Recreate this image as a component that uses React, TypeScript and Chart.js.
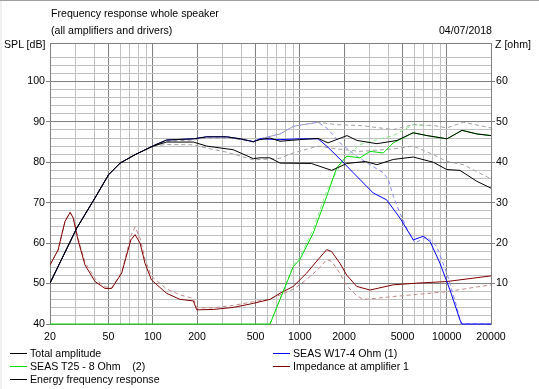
import React, { useEffect, useRef } from "react";
import { Chart, registerables } from "chart.js";

Chart.register(...registerables);

// ---------- Data ----------
const GRID_FREQS = [
  20, 30, 40, 50, 60, 70, 80, 90, 100, 200, 300, 400, 500, 600, 700, 800, 900,
  1000, 2000, 3000, 4000, 5000, 6000, 7000, 8000, 9000, 10000, 20000,
];
const LABEL_FREQS = [20, 50, 100, 200, 500, 1000, 2000, 5000, 10000, 20000];

// Total amplitude (dB)
const TOTAL_F = [20, 30.4, 40.5, 50, 60, 76, 101, 124, 189, 233, 318, 393, 483, 536, 628, 734, 1000, 1332, 1558, 2096, 2450, 3352, 4588, 5893, 7340, 10040, 12700, 16060, 20000];
const TOTAL_DB = [50.1, 63.7, 71.2, 76.9, 79.8, 81.9, 84.1, 85.5, 85.8, 86.3, 86.3, 85.8, 85.1, 85.6, 86.0, 85.2, 85.6, 85.9, 84.8, 86.6, 85.4, 84.6, 85.4, 87.3, 86.6, 85.8, 87.9, 87.0, 86.6];

// Energy frequency response (dB)
const ENERGY_F = [20, 30.4, 40.5, 50, 60, 76, 101, 124, 189, 233, 353, 483, 536, 628, 734, 1200, 1650, 2086, 2800, 3350, 4330, 5920, 8110, 10000, 12300, 16000, 20000];
const ENERGY_DB = [50.1, 63.7, 71.2, 76.9, 79.8, 81.9, 84.0, 85.0, 85.0, 84.0, 83.1, 80.9, 81.1, 81.1, 79.8, 79.7, 78.0, 79.7, 80.2, 79.4, 80.7, 81.3, 80.0, 78.2, 78.0, 75.3, 73.6];

// SEAS W17-4 Ohm (1) (dB)
const W17_F = [20, 30.4, 40.5, 50, 60, 76, 101, 124, 189, 233, 318, 393, 483, 536, 734, 1000, 1332, 1526, 1878, 2313, 3163, 3900, 4808, 5920, 6934, 7700, 8996, 10520, 12300, 12700, 20000];
const W17_DB = [50.1, 63.7, 71.2, 76.9, 79.8, 81.9, 84.1, 85.5, 85.8, 86.3, 86.3, 85.8, 85.1, 85.8, 85.6, 85.8, 85.8, 84.0, 80.8, 77.4, 72.4, 70.7, 66.2, 60.8, 61.7, 60.4, 55.0, 48.4, 41.0, 40, 40];

// SEAS T25 - 8 Ohm (2) (dB)
const T25_F = [20, 628, 904, 1000, 1236, 1526, 1783, 2086, 2570, 3006, 3700, 4330, 5920, 7340, 10040, 12700, 16060, 20000];
const T25_DB = [40, 40, 54.2, 55.9, 62.5, 71.6, 78.6, 81.5, 81.1, 82.7, 82.3, 84.8, 87.3, 86.6, 85.8, 87.9, 87.0, 86.6];

// Impedance at amplifier 1 (ohm)
const IMP_F = [20, 22.7, 25.3, 27.4, 28.8, 31, 34.6, 40.5, 47.3, 52.6, 61.5, 71, 75.8, 82, 88.6, 98, 124, 153, 189, 199, 258, 353, 483, 628, 734, 904, 1115, 1330, 1526, 1648, 1878, 2086, 2440, 3006, 4330, 6240, 10000, 20000];
const IMP_OHM = [14.6, 18.3, 25.4, 27.6, 26.2, 20.8, 14.6, 10.5, 8.8, 8.8, 12.6, 20.8, 22.1, 20.0, 15.0, 10.9, 7.6, 6.1, 5.7, 3.5, 3.6, 4.1, 5.1, 6.1, 7.6, 9.3, 12.6, 15.9, 18.4, 17.9, 15.0, 12.1, 9.3, 8.4, 9.7, 10.1, 10.5, 11.9];

// Reference (dashed) curves
const TOTAL_REF_F = [101, 124, 189, 233, 318, 393, 483, 536, 734, 904, 1330, 1783, 2570, 4330, 5920, 8110, 10000, 12970, 20000];
const TOTAL_REF_DB = [84.0, 85.2, 85.5, 86.0, 86.0, 85.6, 85.0, 85.8, 87.0, 88.9, 89.9, 89.3, 89.1, 88.1, 89.3, 89.1, 88.5, 89.9, 88.5];

const ENERGY_REF_F = [101, 124, 189, 233, 318, 483, 628, 734, 904, 1330, 1783, 2570, 4330, 5920, 8110, 10000, 12970, 20000];
const ENERGY_REF_DB = [84.0, 84.4, 84.3, 83.5, 82.5, 80.6, 80.8, 81.0, 82.3, 84.0, 83.3, 82.7, 83.3, 84.0, 81.9, 80.2, 79.4, 75.9];

const W17_REF_F = [483, 536, 734, 904, 1330, 1526, 1878, 2440, 3006, 3706, 4009, 4330, 4808, 5340, 6080, 7340, 8530, 10000, 11700, 12500, 20000];
const W17_REF_DB = [85.0, 85.8, 87.0, 88.9, 89.9, 88.5, 84.8, 81.5, 79.4, 77.4, 75.7, 71.6, 67.4, 63.7, 60.0, 61.6, 59.2, 52.6, 44.3, 40, 40];

const T25_REF_F = [628, 904, 1000, 1236, 1526, 1978, 2570, 3350, 4330, 5920, 7340];
const T25_REF_DB = [40, 54.5, 56.5, 63.5, 73.0, 80.7, 84.4, 85.6, 86.6, 89.3, 89.1];

const IMP_REF_F = [20, 22.7, 25.3, 27.4, 28.8, 31, 34.6, 40.5, 47.3, 52.6, 61.5, 71, 75.8, 82, 88.6, 98, 124, 153, 189, 199, 258, 353, 483, 628, 734, 904, 1115, 1330, 1526, 1648, 1878, 2086, 2440, 2700, 3006, 4330, 6240, 10000, 20000];
const IMP_REF_OHM = [14.6, 18.3, 25.4, 27.6, 26.4, 21.3, 15.3, 11.2, 9.2, 9.0, 12.8, 21.8, 24.0, 21.2, 16.0, 11.8, 8.7, 7.2, 6.3, 4.0, 4.0, 4.6, 5.5, 6.2, 7.2, 8.6, 11.0, 13.5, 15.9, 15.5, 12.5, 9.5, 7.0, 6.1, 6.2, 6.8, 7.3, 8.0, 9.7];

const LEGEND_LEFT = [
  { label: "Total amplitude", color: "#000000" },
  { label: "SEAS T25 - 8 Ohm    (2)", color: "#00dd00" },
  { label: "Energy frequency response", color: "#000000" },
];
const LEGEND_RIGHT = [
  { label: "SEAS W17-4 Ohm (1)", color: "#0000ff" },
  { label: "Impedance at amplifier 1", color: "#800000" },
];

const SPL_MIN = 40;
const SPL_MAX = 109.5;
const OHM_OFFSET = 40;

const pts = (f: number[], v: number[]) => f.map((x, i) => ({ x, y: v[i] }));

const FONT = '"Liberation Sans", Arial, sans-serif';
const FONT_SIZE = 10.6;
const DARK = "#808080";
const LIGHT = "#c0c0c0";

export default function App() {
  const ref = useRef<HTMLCanvasElement | null>(null);

  useEffect(() => {
    document.body.style.margin = "0";
    const canvas = ref.current;
    if (!canvas) return;

    const solid = (label: string, data: any, color: string, axis = "y") => ({
      label,
      data,
      borderColor: color,
      backgroundColor: color,
      borderWidth: 1,
      pointRadius: 0,
      tension: 0,
      yAxisID: axis,
      clip: { left: 0, top: 0, right: 0, bottom: 2 },
    });
    const dashed = (label: string, data: any, color: string, axis = "y") => ({
      ...solid(label, data, color, axis),
      borderDash: [4, 3],
    });

    const chart = new Chart(canvas, {
      type: "line",
      data: {
        datasets: [
          solid("Total amplitude", pts(TOTAL_F, TOTAL_DB), "#000000"),
          solid("Energy frequency response", pts(ENERGY_F, ENERGY_DB), "#000000"),
          solid("SEAS W17-4 Ohm (1)", pts(W17_F, W17_DB), "#0000ff"),
          solid("SEAS T25 - 8 Ohm (2)", pts(T25_F, T25_DB), "#00dd00"),
          solid("Impedance at amplifier 1", pts(IMP_F, IMP_OHM), "#800000", "y2"),
          dashed("Total ref", pts(TOTAL_REF_F, TOTAL_REF_DB), "#a0a0a0"),
          dashed("Energy ref", pts(ENERGY_REF_F, ENERGY_REF_DB), "#a0a0a0"),
          dashed("W17 ref", pts(W17_REF_F, W17_REF_DB), "#8888ff"),
          dashed("T25 ref", pts(T25_REF_F, T25_REF_DB), "#88e888"),
          dashed("Impedance ref", pts(IMP_REF_F, IMP_REF_OHM), "#c08888", "y2"),
        ],
      },
      options: {
        animation: false,
        responsive: false,
        maintainAspectRatio: false,
        layout: { padding: { top: 43, left: 0, right: 0, bottom: 0 } },
        plugins: { legend: { display: false }, tooltip: { enabled: false }, title: { display: false } },
        scales: {
          x: {
            type: "logarithmic",
            min: 20,
            max: 20000,
            afterBuildTicks: (s: any) => {
              s.ticks = GRID_FREQS.map((v) => ({ value: v }));
            },
            afterFit: (s: any) => {
              s.height = 65;
            },
            border: { display: true, color: DARK },
            grid: {
              drawTicks: false,
              color: (c: any) => (LABEL_FREQS.includes(c.tick?.value) ? DARK : LIGHT),
            },
            ticks: {
              autoSkip: false,
              maxRotation: 0,
              padding: 7,
              color: "#000",
              font: { family: FONT, size: FONT_SIZE },
              callback: (v: any) => (LABEL_FREQS.includes(Number(v)) ? String(v) : ""),
            },
          },
          y: {
            type: "linear",
            position: "left",
            min: SPL_MIN,
            max: SPL_MAX,
            afterFit: (s: any) => {
              s.width = 50;
            },
            border: { display: true, color: DARK },
            grid: {
              tickLength: 4,
              color: (c: any) => {
                const v = c.tick?.value;
                return v % 10 === 0 || v === SPL_MAX ? DARK : LIGHT;
              },
              tickColor: (c: any) => (c.tick?.value % 10 === 0 ? DARK : "rgba(0,0,0,0)"),
            },
            ticks: {
              stepSize: 2,
              autoSkip: false,
              padding: 1,
              color: "#000",
              font: { family: FONT, size: FONT_SIZE },
              callback: (v: any) => (Number(v) % 10 === 0 ? String(v) : ""),
            },
          },
          y2: {
            type: "linear",
            position: "right",
            min: SPL_MIN - OHM_OFFSET,
            max: SPL_MAX - OHM_OFFSET,
            afterFit: (s: any) => {
              s.width = 48;
            },
            border: { display: true, color: DARK },
            grid: {
              drawOnChartArea: false,
              tickLength: 4,
              tickColor: (c: any) => {
                const v = c.tick?.value;
                return v % 10 === 0 && v > 0 ? DARK : "rgba(0,0,0,0)";
              },
            },
            ticks: {
              stepSize: 2,
              autoSkip: false,
              padding: 1,
              color: "#000",
              font: { family: FONT, size: FONT_SIZE },
              callback: (v: any) => (Number(v) % 10 === 0 && Number(v) > 0 ? String(v) : ""),
            },
          },
        },
      },
    });
    return () => chart.destroy();
  }, []);

  const text: React.CSSProperties = {
    position: "absolute",
    fontFamily: FONT,
    fontSize: FONT_SIZE,
    lineHeight: "13px",
    color: "#000",
    whiteSpace: "pre",
  };

  const legendItem = (item: { label: string; color: string }, x: number, y: number) => (
    <div key={item.label} style={{ ...text, left: x, top: y }}>
      <span
        style={{
          position: "absolute",
          left: 0,
          top: 6,
          width: 17,
          height: 1,
          background: item.color,
        }}
      />
      <span style={{ position: "absolute", left: 20, top: 0 }}>{item.label}</span>
    </div>
  );

  return (
    <div style={{ position: "relative", width: 539, height: 389, background: "#fff", overflow: "hidden" }}>
      <canvas ref={ref} width={539} height={389} style={{ position: "absolute", left: 0, top: 0 }} />
      <div style={{ position: "absolute", left: 0, top: 0, width: 539, height: 1, background: "#a0a0a0" }} />
      <div style={{ position: "absolute", left: 0, top: 1, width: 2, height: 388, background: "#f0f0f0" }} />
      <div style={{ ...text, left: 51, top: 7 }}>Frequency response whole speaker</div>
      <div style={{ ...text, left: 51, top: 24 }}>(all amplifiers and drivers)</div>
      <div style={{ ...text, right: 539 - 492, top: 24 }}>04/07/2018</div>
      <div style={{ ...text, left: 4, top: 38 }}>SPL [dB]</div>
      <div style={{ ...text, left: 495, top: 38 }}>Z [ohm]</div>
      {LEGEND_LEFT.map((it, i) => legendItem(it, 10, 347 + i * 13))}
      {LEGEND_RIGHT.map((it, i) => legendItem(it, 273, 347 + i * 13))}
    </div>
  );
}
